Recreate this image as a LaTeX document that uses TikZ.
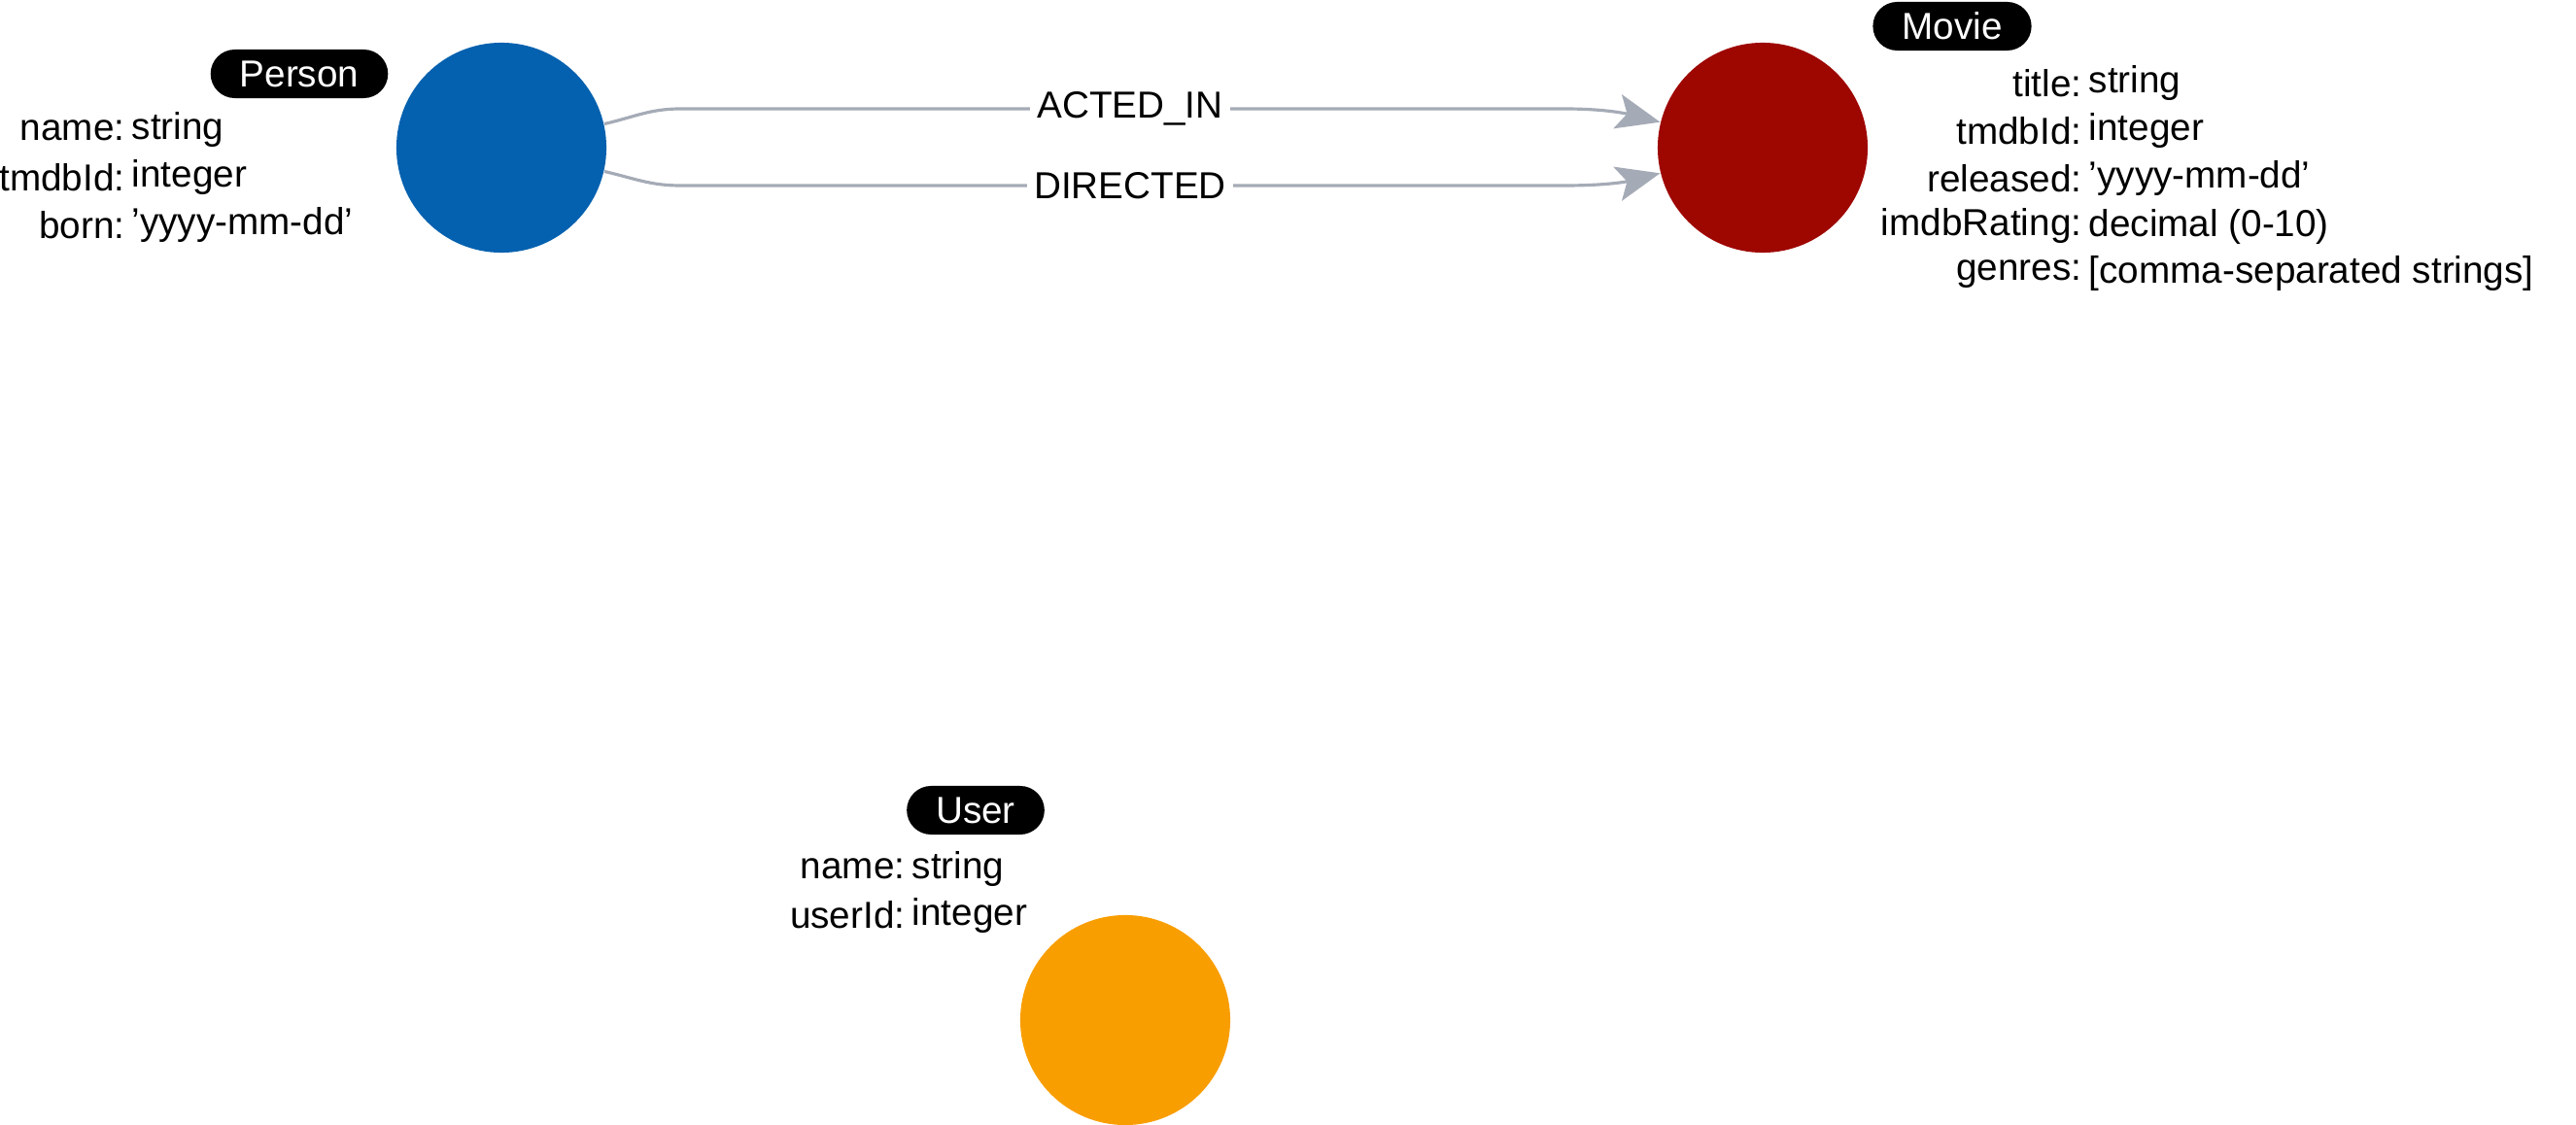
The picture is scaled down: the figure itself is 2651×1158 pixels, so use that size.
\documentclass[tikz,border=0pt]{standalone}
\usepackage{fontspec}
\setmainfont{Liberation Sans}
\usetikzlibrary{arrows.meta,positioning}

\definecolor{personblue}{HTML}{0461AF}
\definecolor{moviered}{HTML}{9E0600}
\definecolor{userorange}{HTML}{F99E00}
\definecolor{relgray}{HTML}{A5ABB6}

\begin{document}
\begin{tikzpicture}[
    x = 0.01cm, y = -0.01cm, % one unit per pixel
    font = \fontsize{11}{14}\selectfont,
    entity/.style = {circle, minimum size = 2.16cm, inner sep = 0pt},
    tag/.style = {fill = black, text = white, rounded corners = 0.25cm,
                  minimum height = 0.5cm, inner xsep = 0.3cm, inner ysep = 0pt},
    key/.style = {anchor = east, inner sep = 0pt},
    val/.style = {anchor = west, inner sep = 0pt},
    rel/.style = {draw = relgray, line width = 0.9pt},
    rellabel/.style = {fill = white, inner xsep = 2pt, inner ysep = 1pt}
    ]
    \useasboundingbox (0,0) rectangle (2651,1158);

    % entities
    \node[entity, fill = personblue] (person) at (516,152) {};
    \node[entity, fill = moviered] (movie) at (1814,152) {};
    \node[entity, fill = userorange] (user) at (1158,1050) {};

    % tags
    \node[tag] (persontag) at (308,76) {Person};
    \node[tag] (movietag) at (2009,27) {Movie};
    \node[tag] (usertag) at (1004,834) {User};

    % properties
    \node[key] at (129,134) {name:};   \node[val] at (135,134) {string};
    \node[key] at (129,183) {tmdbId:}; \node[val] at (135,183) {integer};
    \node[key] at (129,232) {born:};   \node[val] at (135,232) {'yyyy-mm-dd'};

    \node[key] at (2143,86)  {title:};      \node[val] at (2149,86)  {string};
    \node[key] at (2143,135) {tmdbId:};     \node[val] at (2149,135) {integer};
    \node[key] at (2143,184) {released:};   \node[val] at (2149,184) {'yyyy-mm-dd'};
    \node[key] at (2143,233) {imdbRating:}; \node[val] at (2149,233) {decimal (0-10)};
    \node[key] at (2143,282) {genres:};     \node[val] at (2149,282) {[comma-separated strings]};

    \node[key] at (932,894) {name:};   \node[val] at (938,894) {string};
    \node[key] at (932,942) {userId:}; \node[val] at (938,942) {integer};

    % relationships
    \coordinate (a1) at (700,112);
    \coordinate (a2) at (1610,112);
    \coordinate (d1) at (700,191);
    \coordinate (d2) at (1610,191);
    \draw[rel] (person.13) to[out=13,in=180] (a1) -- (a2);
    \draw[rel, -{Stealth[length=4.5mm,width=3.6mm,inset=1mm]}] (a2) to[out=0,in=166] (movie.166);
    \draw[rel] (person.-13) to[out=-13,in=180] (d1) -- (d2);
    \draw[rel, -{Stealth[length=4.5mm,width=3.6mm,inset=1mm]}] (d2) to[out=0,in=194] (movie.194);
    \node[rellabel] (acted) at (1163,112) {ACTED\_IN};
    \node[rellabel] (directed) at (1163,191) {DIRECTED};
\end{tikzpicture}
\end{document}
